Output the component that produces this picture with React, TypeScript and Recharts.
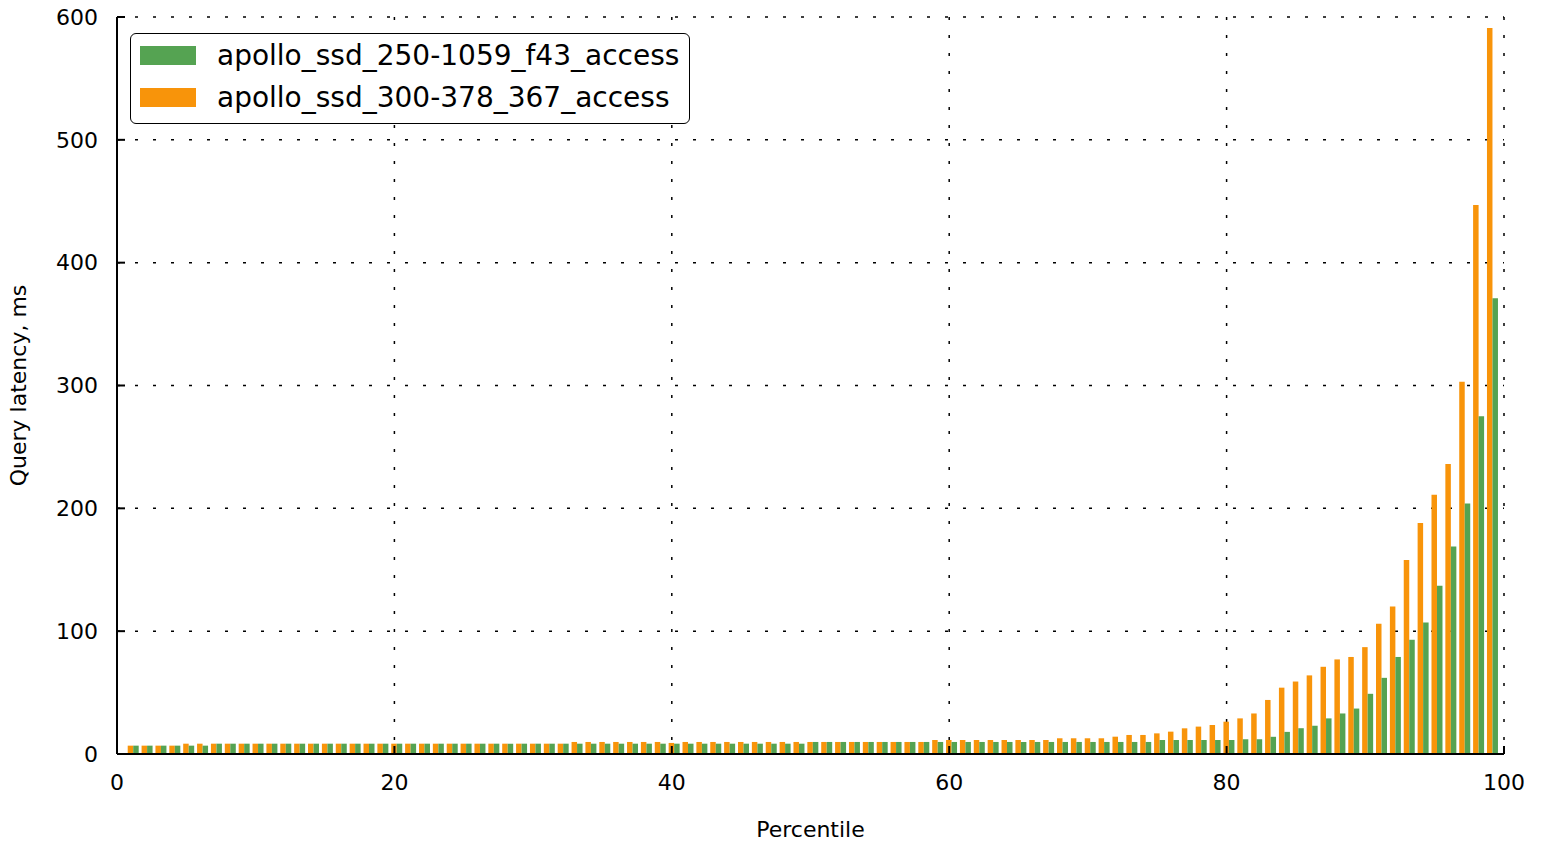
import React from 'react';
import { BarChart, Bar, XAxis, YAxis, CartesianGrid, Legend } from 'recharts';

const percentiles = [
  1, 2, 3, 4, 5, 6, 7, 8, 9, 10,
  11, 12, 13, 14, 15, 16, 17, 18, 19, 20,
  21, 22, 23, 24, 25, 26, 27, 28, 29, 30,
  31, 32, 33, 34, 35, 36, 37, 38, 39, 40,
  41, 42, 43, 44, 45, 46, 47, 48, 49, 50,
  51, 52, 53, 54, 55, 56, 57, 58, 59, 60,
  61, 62, 63, 64, 65, 66, 67, 68, 69, 70,
  71, 72, 73, 74, 75, 76, 77, 78, 79, 80,
  81, 82, 83, 84, 85, 86, 87, 88, 89, 90,
  91, 92, 93, 94, 95, 96, 97, 98, 99,
];

// apollo_ssd_250-1059_f43_access (green)
const greenLatency = [
  6.8, 6.8, 6.8, 6.8, 6.8, 6.8, 8.4, 8.4, 8.4, 8.4,
  8.4, 8.4, 8.4, 8.4, 8.4, 8.4, 8.4, 8.4, 8.4, 8.4,
  8.4, 8.4, 8.4, 8.4, 8.4, 8.4, 8.4, 8.4, 8.4, 8.4,
  8.4, 8.4, 8.4, 8.4, 8.4, 8.4, 8.4, 8.4, 8.4, 8.4,
  8.4, 8.4, 8.4, 8.4, 8.4, 8.4, 8.4, 8.4, 8.4, 9.8,
  9.8, 9.8, 9.8, 9.8, 9.8, 9.8, 9.8, 9.8, 9.8, 9.8,
  9.8, 9.8, 9.8, 9.8, 9.8, 9.8, 9.8, 9.8, 9.8, 9.8,
  9.8, 9.8, 9.8, 9.8, 11.4, 11.4, 11.4, 11.4, 11.4, 11.4,
  12, 12, 14, 18, 21, 23, 29, 33, 37, 49,
  62, 79, 93, 107, 137, 169, 204, 275, 371,
];

// apollo_ssd_300-378_367_access (orange)
const orangeLatency = [
  6.8, 6.8, 6.8, 6.8, 8.4, 8.4, 8.4, 8.4, 8.4, 8.4,
  8.4, 8.4, 8.4, 8.4, 8.4, 8.4, 8.4, 8.4, 8.4, 8.4,
  8.4, 8.4, 8.4, 8.4, 8.4, 8.4, 8.4, 8.4, 8.4, 8.4,
  8.4, 8.4, 9.8, 9.8, 9.8, 9.8, 9.8, 9.8, 9.8, 9.0,
  9.8, 9.8, 9.8, 9.8, 9.8, 9.8, 9.8, 9.8, 9.8, 9.8,
  9.8, 9.8, 9.8, 9.8, 9.8, 9.8, 9.8, 9.8, 11.4, 11.4,
  11.4, 11.4, 11.4, 11.4, 11.4, 11.4, 11.4, 12.8, 12.8, 12.8,
  12.8, 14.1, 15.5, 15.5, 16.8, 18.2, 20.9, 22.3, 23.6, 26.3,
  29, 33, 44, 54, 59, 64, 71, 77, 79, 87,
  106, 120, 158, 188, 211, 236, 303, 447, 591,
];

const xTicks = [0, 20, 40, 60, 80, 100];
const yTicks = [0, 100, 200, 300, 400, 500, 600];

const GREEN = '#55a352';
const ORANGE = '#f8940a';
const GREEN_NAME = 'apollo_ssd_250-1059_f43_access';
const ORANGE_NAME = 'apollo_ssd_300-378_367_access';

const legendItems = [
  { name: GREEN_NAME, color: GREEN },
  { name: ORANGE_NAME, color: ORANGE },
];

const data = percentiles.map((p, i) => ({
  p,
  green: greenLatency[i],
  orange: orangeLatency[i],
}));

const FONT = '"DejaVu Sans", Verdana, sans-serif';

const renderLegend = () => (
  <div
    style={{
      display: 'inline-block',
      border: '1.5px solid #000',
      borderRadius: 6,
      background: '#fff',
      padding: '0 10px 5px 9px',
      fontFamily: FONT,
      fontSize: 28,
      color: '#000',
      whiteSpace: 'nowrap',
    }}
  >
    {legendItems.map((it) => (
      <div key={it.name} style={{ display: 'flex', alignItems: 'center', height: 42 }}>
        <span
          style={{ display: 'inline-block', width: 56, height: 19, background: it.color, marginRight: 21 }}
        />
        <span>{it.name}</span>
      </div>
    ))}
  </div>
);

export default function App() {
  const axisStroke = { stroke: '#000', strokeWidth: 2 };
  return (
    <div style={{ position: 'absolute', left: 0, top: 0, width: 1545, height: 847, background: '#fff' }}>
      <BarChart
        width={1545}
        height={847}
        data={data}
        margin={{ top: 17, right: 41, bottom: 0, left: 0 }}
        barGap={0}
        barSize={5.5}
        style={{ fontFamily: FONT }}
      >
        <XAxis
          xAxisId="bars"
          dataKey="p"
          type="number"
          domain={[-0.2, 99.8]}
          hide
          height={0}
          allowDataOverflow
        />
        <XAxis
          xAxisId="main"
          dataKey="p"
          type="number"
          domain={[0, 100]}
          ticks={xTicks}
          height={93}
          tickSize={-8}
          tickMargin={28}
          axisLine={axisStroke}
          tickLine={axisStroke}
          tick={{ fill: '#000', fontSize: 22, fontFamily: FONT }}
          allowDataOverflow
          label={{ value: 'Percentile', position: 'insideBottom', offset: 10, fill: '#000', fontSize: 22, fontFamily: FONT }}
        />
        <XAxis
          xAxisId="top"
          dataKey="p"
          orientation="top"
          type="number"
          domain={[0, 100]}
          ticks={xTicks}
          height={0}
          tickSize={-8}
          tick={false}
          axisLine={axisStroke}
          tickLine={axisStroke}
          allowDataOverflow
        />
        <YAxis
          yAxisId="left"
          type="number"
          domain={[0, 600]}
          ticks={yTicks}
          width={117}
          tickSize={-8}
          tickMargin={27}
          axisLine={axisStroke}
          tickLine={axisStroke}
          tick={{ fill: '#000', fontSize: 22, fontFamily: FONT }}
          allowDataOverflow
          label={{
            value: 'Query latency, ms',
            angle: -90,
            position: 'insideLeft',
            offset: 18,
            fill: '#000',
            fontSize: 22,
            fontFamily: FONT,
            style: { textAnchor: 'middle' },
          }}
        />
        <YAxis
          yAxisId="right"
          orientation="right"
          type="number"
          domain={[0, 600]}
          ticks={yTicks}
          width={0}
          tickSize={-8}
          tick={false}
          axisLine={axisStroke}
          tickLine={axisStroke}
          allowDataOverflow
        />
        <Bar xAxisId="bars" yAxisId="left" dataKey="orange" name={ORANGE_NAME} fill={ORANGE} isAnimationActive={false} />
        <Bar xAxisId="bars" yAxisId="left" dataKey="green" name={GREEN_NAME} fill={GREEN} isAnimationActive={false} />
        <CartesianGrid xAxisId="main" yAxisId="left" stroke="#000" strokeWidth={1.5} strokeDasharray="3 15" />
        <Legend
          content={renderLegend}
          layout="vertical"
          align="center"
          verticalAlign="middle"
          wrapperStyle={{ left: 130, top: 33, width: 'auto' }}
        />
      </BarChart>
    </div>
  );
}
